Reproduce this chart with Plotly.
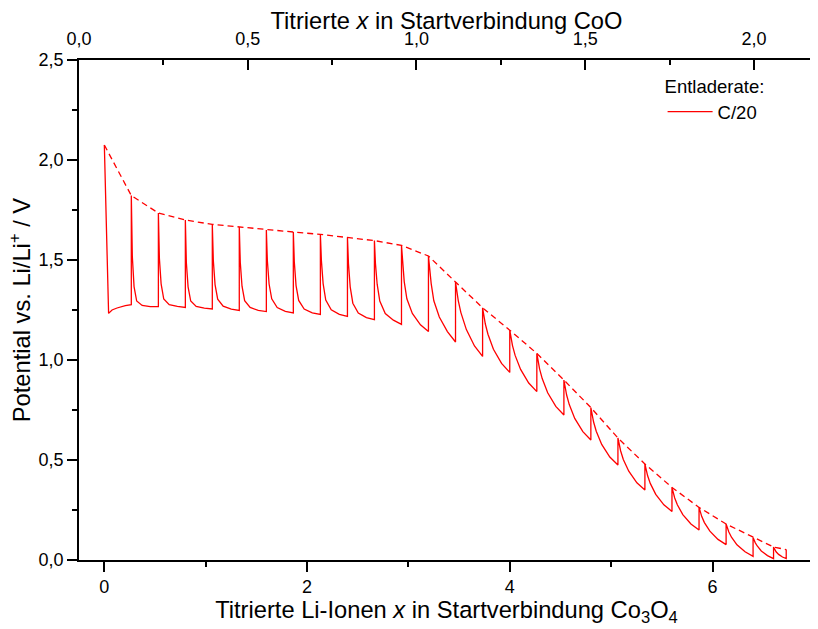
import plotly.graph_objects as go

# positions of the titration steps (bottom axis, x in Co3O4)
step_x = [0, 0.266, 0.533, 0.799, 1.065, 1.331, 1.598, 1.864, 2.131, 2.398,
          2.664, 2.931, 3.197, 3.464, 3.731, 3.999, 4.266, 4.533, 4.799, 5.066,
          5.332, 5.599, 5.866, 6.133, 6.399, 6.601, 6.726]
# relaxed potential at each step (dashed line)
relaxed_v = [2.075, 1.822, 1.735, 1.700, 1.678, 1.665, 1.650, 1.640, 1.628, 1.613,
             1.597, 1.573, 1.520, 1.390, 1.261, 1.149, 1.033, 0.900, 0.762, 0.610,
             0.480, 0.363, 0.263, 0.180, 0.113, 0.065, 0.052]

# measured GITT curve, one row per titration pulse
curve_x = [
    0, 0.042, 0.076, 0.125, 0.207, 0.266,
    0.266, 0.276, 0.293, 0.319, 0.373, 0.453, 0.533,
    0.533, 0.543, 0.560, 0.586, 0.640, 0.720, 0.799,
    0.799, 0.809, 0.826, 0.852, 0.906, 0.986, 1.065,
    1.065, 1.075, 1.092, 1.118, 1.172, 1.252, 1.331,
    1.331, 1.341, 1.358, 1.384, 1.438, 1.518, 1.598,
    1.598, 1.608, 1.625, 1.651, 1.705, 1.785, 1.864,
    1.864, 1.874, 1.891, 1.917, 1.971, 2.051, 2.131,
    2.131, 2.141, 2.158, 2.184, 2.238, 2.318, 2.398,
    2.398, 2.408, 2.425, 2.451, 2.505, 2.585, 2.664,
    2.664, 2.674, 2.691, 2.717, 2.771, 2.851, 2.931,
    2.931, 2.941, 2.958, 2.984, 3.038, 3.118, 3.197,
    3.197, 3.207, 3.224, 3.250, 3.304, 3.384, 3.464,
    3.464, 3.474, 3.491, 3.517, 3.571, 3.651, 3.731,
    3.731, 3.741, 3.758, 3.784, 3.838, 3.918, 3.999,
    3.999, 4.009, 4.026, 4.052, 4.106, 4.186, 4.266,
    4.266, 4.276, 4.293, 4.319, 4.373, 4.453, 4.533,
    4.533, 4.543, 4.560, 4.586, 4.640, 4.720, 4.799,
    4.799, 4.809, 4.826, 4.852, 4.906, 4.986, 5.066,
    5.066, 5.076, 5.093, 5.119, 5.173, 5.253, 5.332,
    5.332, 5.342, 5.359, 5.385, 5.439, 5.519, 5.599,
    5.599, 5.609, 5.626, 5.652, 5.706, 5.786, 5.866,
    5.866, 5.876, 5.893, 5.919, 5.973, 6.053, 6.133,
    6.133, 6.143, 6.160, 6.186, 6.240, 6.320, 6.399,
    6.399, 6.407, 6.420, 6.440, 6.480, 6.541, 6.601,
    6.601, 6.606, 6.614, 6.626, 6.651, 6.689, 6.726,
    6.726,
]
curve_v = [
    2.075, 1.233, 1.250, 1.260, 1.272, 1.277,
    1.822, 1.517, 1.367, 1.295, 1.273, 1.267, 1.267,
    1.735, 1.508, 1.381, 1.305, 1.277, 1.268, 1.263,
    1.700, 1.486, 1.366, 1.295, 1.268, 1.259, 1.255,
    1.678, 1.497, 1.377, 1.304, 1.269, 1.254, 1.248,
    1.665, 1.487, 1.369, 1.297, 1.263, 1.248, 1.242,
    1.650, 1.496, 1.380, 1.306, 1.262, 1.243, 1.235,
    1.640, 1.488, 1.372, 1.298, 1.255, 1.236, 1.228,
    1.628, 1.497, 1.382, 1.300, 1.251, 1.228, 1.218,
    1.613, 1.481, 1.366, 1.284, 1.235, 1.212, 1.202,
    1.597, 1.484, 1.379, 1.295, 1.232, 1.199, 1.178,
    1.573, 1.487, 1.392, 1.306, 1.233, 1.176, 1.142,
    1.520, 1.455, 1.382, 1.296, 1.215, 1.142, 1.090,
    1.390, 1.353, 1.297, 1.237, 1.152, 1.070, 1.018,
    1.261, 1.229, 1.180, 1.129, 1.054, 0.983, 0.938,
    1.149, 1.118, 1.072, 1.023, 0.953, 0.885, 0.842,
    1.033, 1.002, 0.956, 0.907, 0.836, 0.768, 0.725,
    0.900, 0.870, 0.825, 0.777, 0.708, 0.642, 0.600,
    0.762, 0.733, 0.690, 0.644, 0.578, 0.515, 0.475,
    0.610, 0.584, 0.545, 0.503, 0.444, 0.386, 0.350,
    0.480, 0.456, 0.421, 0.383, 0.328, 0.276, 0.243,
    0.363, 0.342, 0.310, 0.276, 0.227, 0.180, 0.150,
    0.263, 0.244, 0.217, 0.187, 0.144, 0.103, 0.077,
    0.180, 0.164, 0.140, 0.114, 0.076, 0.041, 0.018,
    0.113, 0.102, 0.087, 0.070, 0.045, 0.022, 0.007,
    0.065, 0.059, 0.051, 0.041, 0.028, 0.015, 0.007,
    0.052,
]

FONT = "Arial, 'Liberation Sans', sans-serif"
RED = "#ff0000"

fig = go.Figure()
fig.add_trace(go.Scatter(x=step_x, y=relaxed_v, mode="lines",
                         line=dict(color=RED, width=1.3, dash="6px,4px"),
                         showlegend=False, hoverinfo="skip"))
fig.add_trace(go.Scatter(x=curve_x, y=curve_v, mode="lines", name="C/20",
                         line=dict(color=RED, width=1.3)))
# carrier for the top axis
fig.add_trace(go.Scatter(x=[0], y=[None], xaxis="x2", showlegend=False,
                         hoverinfo="skip"))

tickfont = dict(family=FONT, size=18, color="black")
titlefont = dict(family=FONT, size=23.7, color="black")

# page body has an 8px margin, so the figure is 8px smaller
fig.update_layout(
    width=810, height=621,
    margin=dict(l=71, r=4, t=52, b=69),
    plot_bgcolor="white", paper_bgcolor="white",
    separators=", ",
    font=dict(family=FONT, color="black"),
    xaxis=dict(
        range=[-0.25, 7.0], dtick=2, tick0=0,
        showline=True, linecolor="black", linewidth=1.5,
        ticks="outside", ticklen=10, tickwidth=1.5, tickcolor="black",
        minor=dict(dtick=1, tick0=0, ticks="outside", ticklen=5, tickcolor="black", tickwidth=1.5),
        showgrid=False, zeroline=False, tickfont=tickfont, automargin=False,
        title=dict(text="Titrierte Li-Ionen <i>x</i> in Startverbindung Co<sub>3</sub>O<sub>4</sub>",
                   font=titlefont, standoff=3),
    ),
    xaxis2=dict(
        overlaying="x", side="top", anchor="y",
        range=[0, 2.178], dtick=0.5, tick0=0, tickformat=".1f",
        showline=True, linecolor="black", linewidth=1.5,
        ticks="inside", ticklen=10, tickwidth=1.5, tickcolor="black",
        minor=dict(dtick=0.25, tick0=0, ticks="inside", ticklen=5, tickcolor="black", tickwidth=1.5),
        showgrid=False, zeroline=False, tickfont=tickfont, automargin=False,
        ticklabelstandoff=6,
        title=dict(text="Titrierte <i>x</i> in Startverbindung CoO",
                   font=titlefont, standoff=5),
    ),
    yaxis=dict(
        range=[0, 2.5], dtick=0.5, tick0=0, tickformat=".1f",
        showline=True, linecolor="black", linewidth=1.5, mirror="ticks",
        ticks="outside", ticklen=10, tickwidth=1.5, tickcolor="black",
        minor=dict(dtick=0.25, tick0=0, ticks="outside", ticklen=5, tickcolor="black", tickwidth=1.5),
        showgrid=False, zeroline=False, tickfont=tickfont, automargin=False,
    ),
    annotations=[dict(
        text="Potential vs. Li/Li<sup>+</sup> / V", font=titlefont, textangle=-90,
        xref="paper", yref="paper", x=-0.080, y=0.5,
        xanchor="center", yanchor="middle", showarrow=False,
    )],
    legend=dict(
        title=dict(text="Entladerate:", font=dict(family=FONT, size=18.5, color="black")),
        x=0.794, y=0.982, xanchor="left", yanchor="top",
        bgcolor="rgba(0,0,0,0)", font=dict(family=FONT, size=18.5, color="black"),
        tracegroupgap=0, itemwidth=45,
    ),
)

fig.write_html("out.html")
